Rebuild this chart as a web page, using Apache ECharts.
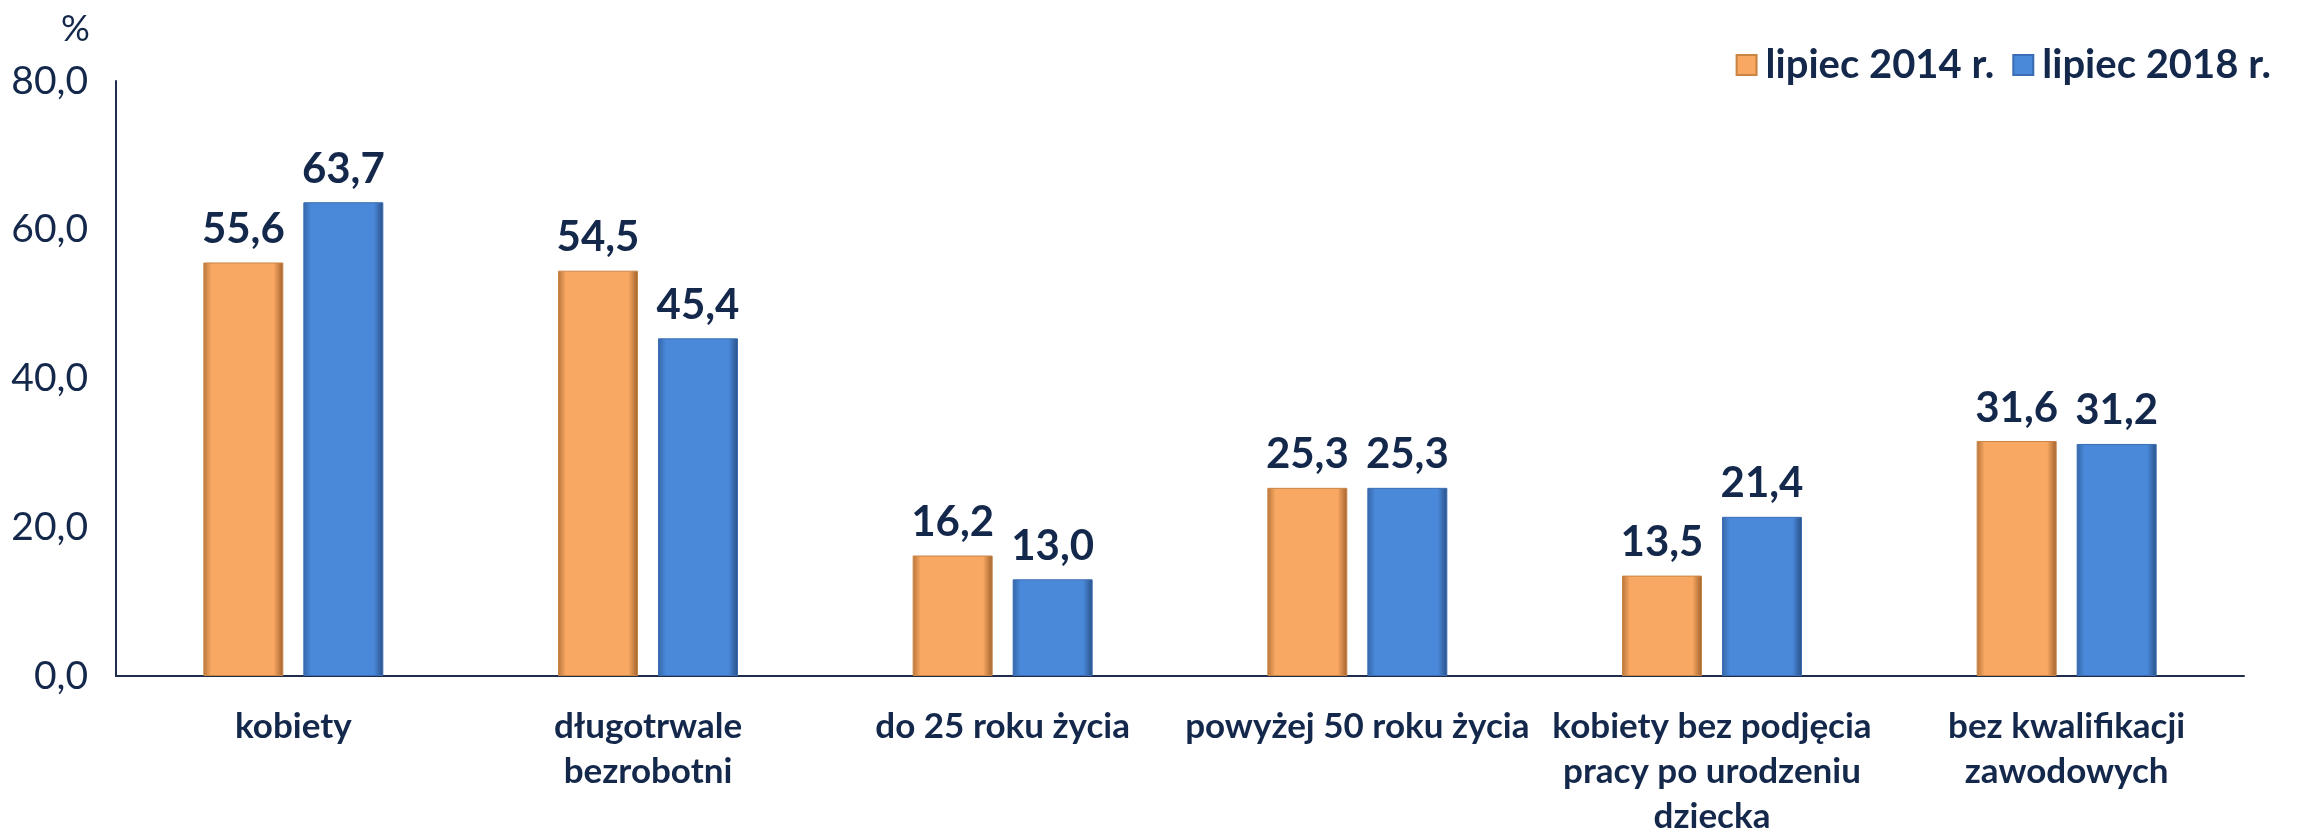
<!DOCTYPE html>
<html>
<head>
<meta charset="utf-8">
<script src="https://cdn.jsdelivr.net/npm/echarts@6/dist/echarts.min.js"></script>
<style>
html,body{margin:0;padding:0;background:#fff;}
#c{width:2300px;height:831px;}
</style>
</head>
<body>
<div id="c"></div>
<script>
const categories = ['kobiety', 'długotrwale\nbezrobotni', 'do 25 roku życia', 'powyżej 50 roku życia', 'kobiety bez podjęcia\npracy po urodzeniu\ndziecka', 'bez kwalifikacji\nzawodowych'];
const seriesNames = ['lipiec 2014 r.', 'lipiec 2018 r.'];
const values2014 = [55.6, 54.5, 16.2, 25.3, 13.5, 31.6];
const values2018 = [63.7, 45.4, 13.0, 25.3, 21.4, 31.2];
const yTicks = { min: 0, max: 80, interval: 20 };

const TXT = '#14284b';
const FONT = 'Lato';
function grad(edge, face, edge2) {
  return new echarts.graphic.LinearGradient(0, 0, 1, 0, [
    { offset: 0, color: edge },
    { offset: 0.1, color: face },
    { offset: 0.88, color: face },
    { offset: 1, color: edge2 }
  ]);
}
const fmt = v => v.toFixed(1).replace('.', ',');
const chart = echarts.init(document.getElementById('c'));
const labelCfg = {
  show: true, position: 'top', distance: 12,
  formatter: p => fmt(p.value),
  color: TXT, fontFamily: FONT, fontWeight: 'bold', fontSize: 42
};
chart.setOption({
  animation: false,
  title: {
    text: '%', left: 56, top: 6,
    textStyle: { color: TXT, fontFamily: FONT, fontWeight: 'normal', fontSize: 36 }
  },
  legend: {
    right: 24, top: 40,
    itemWidth: 20, itemHeight: 20, itemGap: 18,
    icon: 'rect',
    textStyle: { color: TXT, fontFamily: FONT, fontWeight: 'bold', fontSize: 40, padding: [0, 0, 0, 4] },
    data: seriesNames
  },
  grid: { left: 116, right: 56, top: 81, bottom: 155, containLabel: false, outerBoundsMode: 'none' },
  xAxis: {
    type: 'category', data: categories,
    axisLine: { lineStyle: { color: '#1f2d4a', width: 2 } },
    axisTick: { show: false },
    axisLabel: {
      interval: 0, color: TXT, fontFamily: FONT, fontWeight: 'bold', fontSize: 35,
      lineHeight: 45, margin: 28
    }
  },
  yAxis: {
    type: 'value', min: yTicks.min, max: yTicks.max, interval: yTicks.interval,
    axisLine: { show: true, lineStyle: { color: '#1f2d4a', width: 2 } },
    axisTick: { show: false },
    splitLine: { show: false },
    axisLabel: { formatter: v => fmt(v), color: TXT, fontFamily: FONT, fontSize: 39, margin: 28 }
  },
  series: [
    {
      name: seriesNames[0], type: 'bar', data: values2014,
      barWidth: 80, barGap: '25%',
      itemStyle: { color: grad('#b8743a', '#f8a862', '#a0602c'), borderColor: '#c98546', borderWidth: 1 },
      label: labelCfg
    },
    {
      name: seriesNames[1], type: 'bar', data: values2018,
      barWidth: 80, barGap: '25%',
      itemStyle: { color: grad('#3565a8', '#4a89da', '#2a4f86'), borderColor: '#3a6db3', borderWidth: 1 },
      label: labelCfg
    }
  ]
});
</script>
</body>
</html>
